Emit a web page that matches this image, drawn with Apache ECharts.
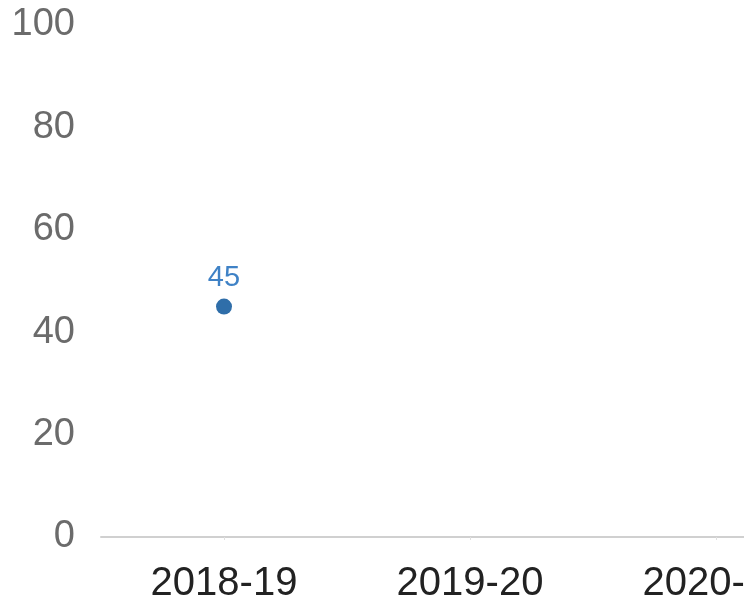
<!DOCTYPE html>
<html>
<head>
<meta charset="utf-8">
<script src="https://cdn.jsdelivr.net/npm/echarts@6/dist/echarts.min.js"></script>
<style>
  html, body { margin: 0; padding: 0; background: #fff; }
  #chart { width: 744px; height: 603px; }
</style>
</head>
<body>
<div id="chart"></div>
<script>
// data
var years = ["2018-19", "2019-20", "2020-21"];
var values = [45, null, null];
var yTicks = [0, 20, 40, 60, 80, 100];

var chart = echarts.init(document.getElementById("chart"));
chart.setOption({
  animation: false,
  grid: { left: 101, width: 738, top: 25, bottom: 66, outerBoundsMode: "none", containLabel: false },
  xAxis: {
    type: "category",
    data: years,
    boundaryGap: true,
    axisLine: { lineStyle: { color: "#d0d0d0", width: 2 } },
    axisTick: { show: true, alignWithLabel: true, length: 3, lineStyle: { color: "#e0e0e0" } },
    axisLabel: { color: "#222", fontSize: 40, fontFamily: "Liberation Sans", margin: 27 }
  },
  yAxis: {
    type: "value",
    min: yTicks[0],
    max: yTicks[yTicks.length - 1],
    interval: 20,
    axisLine: { show: false },
    axisTick: { show: false },
    splitLine: { show: false },
    axisLabel: { color: "#6b6b6b", fontSize: 38, fontFamily: "Liberation Sans", margin: 26 }
  },
  series: [{
    type: "line",
    data: values,
    symbol: "circle",
    symbolSize: 16,
    itemStyle: { color: "#2f6ea9" },
    lineStyle: { color: "#2f6ea9" },
    label: {
      show: true,
      position: "top",
      distance: 6,
      color: "#3f82c6",
      fontSize: 29,
      fontFamily: "Liberation Sans"
    }
  }]
});
</script>
</body>
</html>
